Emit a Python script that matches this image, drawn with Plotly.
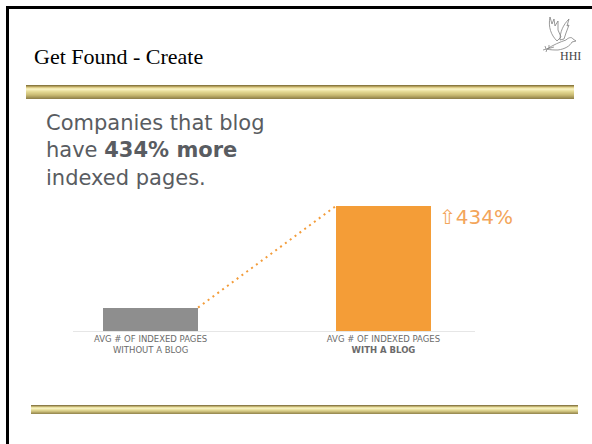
import plotly.graph_objects as go

# ---- data ----
categories = ["AVG # OF INDEXED PAGES<br>WITHOUT A BLOG",
              "AVG # OF INDEXED PAGES<br><b>WITH A BLOG</b>"]
positions = [0, 1]
indexed_pages = [100, 534]          # relative: with a blog = +434 %
increase_label = "\u21e7434%"
headline = "Companies that blog<br>have <b>434% more</b><br>indexed pages."
slide_title = "Get Found - Create"

W, H = 592, 444


def px(x):
    return x / W


def py(y):
    return 1 - y / H


bar_width = 0.408
bar_colors = ["#8e8e8e", "#f49d37"]

fig = go.Figure()

fig.add_trace(go.Bar(
    x=positions, y=indexed_pages, width=bar_width,
    marker=dict(color=bar_colors, line=dict(width=0)),
    hoverinfo="skip", showlegend=False,
))

# dotted connector from the top-right of the first bar to the top-left of the second
fig.add_trace(go.Scatter(
    x=[positions[0] + bar_width / 2, positions[1] - bar_width / 2],
    y=[indexed_pages[0], indexed_pages[1]],
    mode="lines",
    line=dict(color="#f39c3a", width=2, dash="2px,4px"),
    hoverinfo="skip", showlegend=False,
))

shapes = []

# slide frame: top and left black rules
shapes.append(dict(type="rect", xref="paper", yref="paper",
                   x0=px(6), x1=px(592), y0=py(9), y1=py(6),
                   fillcolor="black", line=dict(width=0)))
shapes.append(dict(type="rect", xref="paper", yref="paper",
                   x0=px(6), x1=px(9), y0=py(444), y1=py(6),
                   fillcolor="black", line=dict(width=0)))


def gold_rule(x0, x1, y_top, colors):
    for i, c in enumerate(colors):
        shapes.append(dict(type="rect", xref="paper", yref="paper",
                           x0=px(x0), x1=px(x1),
                           y0=py(y_top + i + 1), y1=py(y_top + i),
                           fillcolor=c, line=dict(width=0), layer="above"))


top_rule = ["#8a7940", "#b4a15e", "#dccb88", "#f1e8ae", "#f6efbe", "#efe6aa",
            "#e6dc98", "#ded28c", "#d6c982", "#cdbf78", "#c2b36d", "#b3a462",
            "#a39457", "#93844c"]
bottom_rule = ["#8c7c48", "#bfb071", "#ece4a6", "#f6f0c0", "#ebe3a4",
               "#dcd28e", "#cbbf7c", "#b3a565", "#9c8e55"]
gold_rule(26, 574, 85, top_rule)
gold_rule(31, 578, 405, bottom_rule)


# small dove emblem in the corner
def path(cmds):
    out = []
    for tok in cmds:
        if isinstance(tok, str):
            out.append(tok)
        else:
            out.append(f"{px(tok[0]):.5f},{py(tok[1]):.5f}")
    return " ".join(out)


dove_paths = [
    # back wing with feather tips
    ["M", (557, 41), "C", (551, 35), (548, 27), (550, 17), "L", (552, 24), "L", (554, 19),
     "L", (555, 26), "L", (558, 21), "L", (558, 30), "L", (561, 37), "Z"],
    # front wing
    ["M", (560, 40), "C", (560, 32), (563, 25), (569, 19), "L", (567, 26), "L", (569, 25),
     "L", (566, 33), "L", (564, 39), "Z"],
    # body and head
    ["M", (547, 49), "C", (553, 45), (560, 42), (566, 40), "C", (569, 37), (572, 37), (573, 39),
     "L", (576, 41), "L", (572, 42), "C", (570, 46), (565, 49), (558, 50),
     "C", (554, 50), (550, 50), (547, 49), "Z"],
    # olive sprig
    ["M", (543, 50), "L", (554, 47), "M", (546, 49), "L", (545, 46),
     "M", (549, 48), "L", (549, 45), "M", (547, 49), "L", (546, 52)],
]
for p in dove_paths:
    shapes.append(dict(type="path", xref="paper", yref="paper", path=path(p),
                       line=dict(color="#808080", width=0.8)))

annotations = [
    dict(text=slide_title, x=px(32), y=py(56.5), xref="paper", yref="paper",
         xanchor="left", yanchor="middle", showarrow=False,
         font=dict(family="Liberation Serif", size=22, color="#000000")),
    dict(text="HHI", x=px(570), y=py(56), xref="paper", yref="paper",
         xanchor="center", yanchor="middle", showarrow=False,
         font=dict(family="Liberation Serif", size=12, color="#444444")),
    dict(text=headline, x=px(44), y=py(109), xref="paper", yref="paper",
         xanchor="left", yanchor="top", align="left", showarrow=False,
         font=dict(family="DejaVu Sans", size=21, color="#595c61")),
    dict(text=increase_label, x=positions[1] + bar_width / 2, y=indexed_pages[1],
         xref="x", yref="y", xanchor="left", yanchor="middle", xshift=6, yshift=-11,
         showarrow=False,
         font=dict(family="DejaVu Sans", size=20, color="#f3a55a")),
]

fig.update_layout(
    width=W, height=H,
    margin=dict(l=0, r=0, t=0, b=0),
    paper_bgcolor="white", plot_bgcolor="white",
    shapes=shapes, annotations=annotations,
    bargap=0,
    xaxis=dict(domain=[px(73), px(475)], range=[-0.333, 1.393],
               tickvals=positions, ticktext=categories,
               showgrid=False, zeroline=False, showline=True,
               linecolor="#e6e6e6", linewidth=1, ticks="",
               tickfont=dict(family="DejaVu Sans", size=8.5, color="#6b6b6b"),
               automargin=False, fixedrange=True),
    yaxis=dict(domain=[py(331), py(200)], range=[0, 559.6],
               visible=False, showgrid=False, zeroline=False,
               automargin=False, fixedrange=True),
)

fig.write_html("out.html")
